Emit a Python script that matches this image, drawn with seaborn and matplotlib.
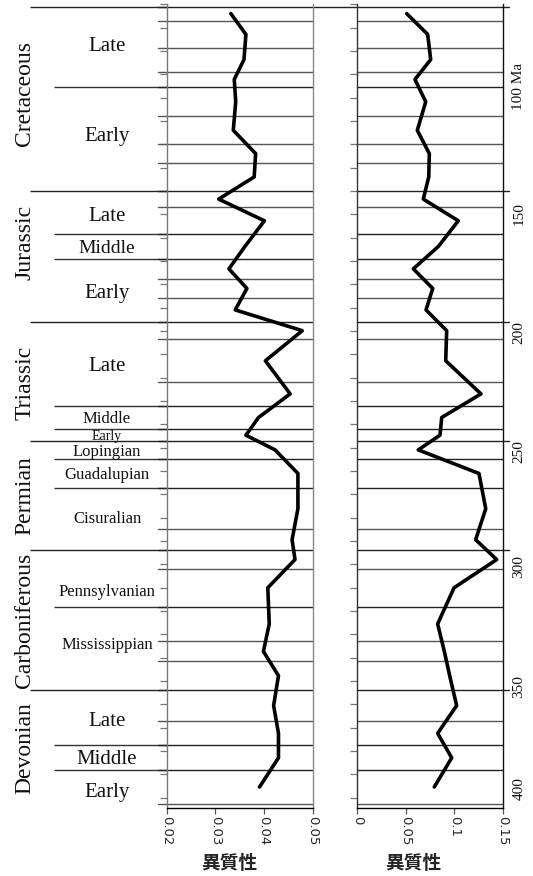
import numpy as np
import pandas as pd
import matplotlib
matplotlib.use("Agg")
import matplotlib.pyplot as plt
import seaborn as sns

# ---------------- data ----------------
ages = [69.0, 77.9, 88.7, 97.2, 106.8, 119.0, 129.0, 139.0, 148.5, 157.8,
        168.8, 178.4, 186.8, 196.0, 204.9, 217.8, 232.0, 242.1, 249.7, 256.0,
        266.1, 281.2, 294.5, 303.0, 315.1, 330.6, 342.4, 352.8, 365.6, 377.5,
        388.0, 400.5]
het_a = [0.0332, 0.0363, 0.0359, 0.0339, 0.0342, 0.0337, 0.0383, 0.0380, 0.0307, 0.0401,
         0.0361, 0.0328, 0.0365, 0.0341, 0.0479, 0.0403, 0.0454, 0.0389, 0.0363, 0.0423,
         0.0470, 0.0470, 0.0458, 0.0464, 0.0408, 0.0411, 0.0399, 0.0430, 0.0420, 0.0430,
         0.0430, 0.0391]
het_b = [0.0510, 0.0726, 0.0757, 0.0595, 0.0706, 0.0619, 0.0743, 0.0737, 0.0681, 0.1042,
         0.0836, 0.0578, 0.0778, 0.0709, 0.0922, 0.0912, 0.1276, 0.0871, 0.0853, 0.0629,
         0.1255, 0.1325, 0.1221, 0.1438, 0.0998, 0.0829, 0.0898, 0.0953, 0.1025, 0.0829,
         0.0974, 0.0794]

stage_bounds = [66.0, 72.1, 83.6, 93.9, 100.5, 113.0, 125.0, 132.9, 145.0, 152.1,
                163.5, 174.1, 182.7, 190.8, 201.3, 208.5, 227.0, 237.0, 247.2, 252.2,
                259.9, 272.3, 290.1, 298.9, 307.0, 323.2, 338.0, 346.7, 358.9, 372.2,
                382.7, 393.3, 407.6]
period_bounds = [66.0, 145.0, 201.3, 252.2, 298.9, 358.9]
epoch_bounds = [100.5, 163.5, 174.1, 237.0, 247.2, 259.9, 272.3, 323.2, 382.7, 393.3]

periods = ["Cretaceous", "Jurassic", "Triassic", "Permian", "Carboniferous", "Devonian"]
period_label_age = [103.4, 167.1, 227.1, 275.8, 328.9, 383.8]

epochs = ["Late", "Early", "Late", "Middle", "Early", "Late", "Middle", "Early",
          "Lopingian", "Guadalupian", "Cisuralian", "Pennsylvanian", "Mississippian",
          "Late", "Middle", "Early"]
epoch_label_age = [83.2, 121.8, 156.0, 169.6, 188.9, 220.3, 242.8, 250.3,
                   256.8, 266.8, 285.6, 316.8, 339.6, 372.6, 388.6, 402.9]

ma_labels = ["100 Ma", "150", "200", "250", "300", "350", "400"]
ma_label_age = [100.4, 154.9, 205.9, 256.8, 306.1, 357.5, 401.3]

xticks_a = [0.02, 0.03, 0.04, 0.05]
xticklabels_a = ["0.02", "0.03", "0.04", "0.05"]
xticks_b = [0.0, 0.05, 0.10, 0.15]
xticklabels_b = ["0", "0.05", "0.1", "0.15"]
minor_ages = list(range(65, 406, 10))
xlabel = "異質性"

# ---------------- style ----------------
sns.set_theme(style="white")
plt.rcParams["font.family"] = ["Liberation Serif", "DejaVu Sans"]
epoch_sizes = [15, 15, 15, 14, 15, 15, 12, 10, 12, 12, 12, 12, 12, 15, 15, 15]

W, H = 533, 876
fig = plt.figure(figsize=(W / 100, H / 100), dpi=100)
ybot, ytop = 68, 871.7
Y0, YH = ybot / H, (ytop - ybot) / H
ylim = (409.5, 65)

ax0 = fig.add_axes([0, Y0, 166.7 / W, YH])
ax1 = fig.add_axes([166.7 / W, Y0, 145.8 / W, YH])
ax2 = fig.add_axes([357.3 / W, Y0, 145.4 / W, YH])

df = pd.DataFrame({"age": ages, "a": het_a, "b": het_b})

# column axes
ax0.set_xlim(0, 166.7)
ax0.set_ylim(*ylim)
ax0.axis("off")
for b in period_bounds:
    ax0.hlines(b, 30, 166.7, color="#222222", lw=1.0)
for b in epoch_bounds:
    ax0.hlines(b, 54, 166.7, color="#333333", lw=1.0)
for name, a in zip(periods, period_label_age):
    ax0.text(25, a, name, rotation=90, ha="center", va="center", fontsize=17,
             color="#111111")
for name, a, s in zip(epochs, epoch_label_age, epoch_sizes):
    ax0.text(107, a, name, ha="center", va="center", fontsize=s, color="#111111")

def style_panel(ax, xlim, ticks, labels, left_col, right_col, ext_left):
    ax.set_xlim(*xlim)
    ax.set_ylim(*ylim)
    for b in stage_bounds:
        col = "#222222" if b in period_bounds or b in epoch_bounds else "#555555"
        xmax = 1.0
        if not ext_left and b in period_bounds:
            xmax = 1.04
        ax.axhline(b, xmin=-0.06 if ext_left else 0, xmax=xmax, color=col, lw=1.0,
                   clip_on=False, zorder=1)
    ax.set_yticks(minor_ages)
    ax.set_yticklabels([])
    ax.set_xticks(ticks)
    ax.set_xticklabels(labels, rotation=-90, fontfamily="DejaVu Sans", fontsize=9.5)
    ax.tick_params(axis="y", left=True, length=5, width=0.9, color="#777777",
                   direction="out")
    ax.tick_params(axis="x", bottom=True, length=4, width=0.9, color="#555555",
                   direction="out", pad=2)
    ax.spines["top"].set_visible(False)
    ax.spines["left"].set_color(left_col)
    ax.spines["right"].set_color(right_col)
    ax.spines["bottom"].set_color("black")
    for s in ax.spines.values():
        s.set_linewidth(1.0)
    ax.grid(False)
    ax.set_ylabel("")
    ax.set_xlabel(xlabel, fontfamily=["Noto Sans CJK JP", "DejaVu Sans"],
                  fontsize=13.5, fontweight="bold", va="center")

sns.lineplot(data=df, x="a", y="age", orient="y", sort=False, estimator=None,
             color="black", lw=2.6, ax=ax1, zorder=3)
sns.lineplot(data=df, x="b", y="age", orient="y", sort=False, estimator=None,
             color="black", lw=2.6, ax=ax2, zorder=3)

style_panel(ax1, (0.02, 0.05), xticks_a, xticklabels_a, "#777777", "#888888", True)
style_panel(ax2, (0.0, 0.15), xticks_b, xticklabels_b, "#333333", "#111111", False)

# top boundary line bridges the gap between panels
ax1.axhline(66.0, xmin=1.0, xmax=(357.3 - 166.7) / 145.8, color="#222222", lw=1.0,
            clip_on=False)

ax1.xaxis.set_label_coords(0.427, -0.069)
ax2.xaxis.set_label_coords(0.385, -0.069)
ax1.xaxis.label.set_va("center")
ax2.xaxis.label.set_va("center")

for lab, a in zip(ma_labels, ma_label_age):
    ax2.text(1.112, a, lab, transform=ax2.get_yaxis_transform(), rotation=90,
             ha="center", va="center", fontsize=11, color="#111111")

fig.savefig("out.png", dpi=100)
